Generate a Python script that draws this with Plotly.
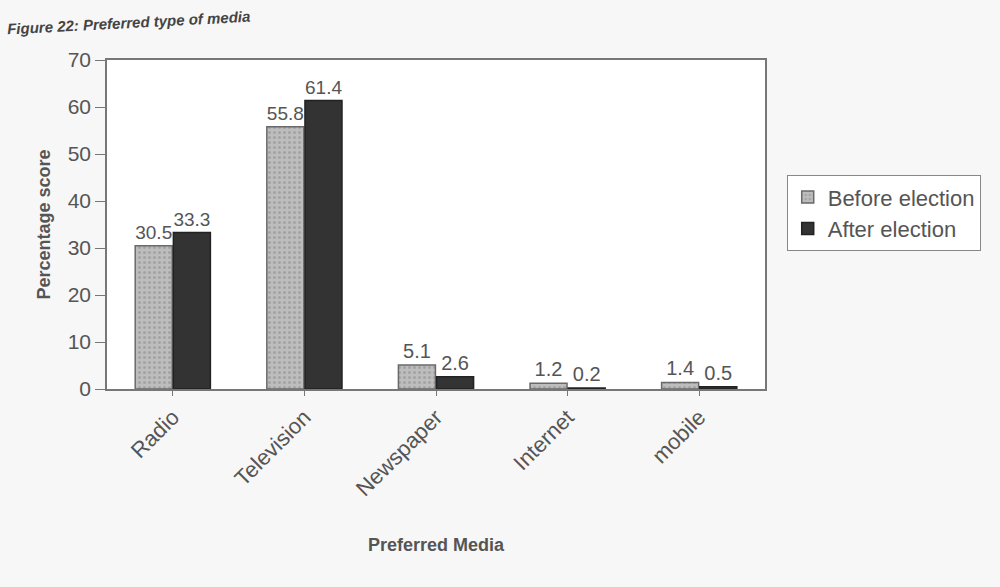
import plotly.graph_objects as go

categories = ["Radio", "Television", "Newspaper", "Internet", "mobile"]
before = [30.5, 55.8, 5.1, 1.2, 1.4]
after = [33.3, 61.4, 2.6, 0.2, 0.5]
y_ticks = [0, 10, 20, 30, 40, 50, 60, 70]

font_fam = "Liberation Sans, Arial, sans-serif"
txt_col = "#555555"

fig = go.Figure()
fig.add_trace(go.Bar(
    x=categories, y=before, name="Before election",
    marker=dict(color="#bdbdbd", line=dict(color="#6a6a6a", width=1.5),
                pattern=dict(shape=".", fgcolor="#8a8a8a", size=5, solidity=0.3)),
    text=[str(v) for v in before], textposition="outside",
    textfont=dict(size=20, color=txt_col, family=font_fam), cliponaxis=False,
))
fig.add_trace(go.Bar(
    x=categories, y=after, name="After election",
    marker=dict(color="#333333", line=dict(color="#222222", width=1.5)),
    text=[str(v) for v in after], textposition="outside",
    textfont=dict(size=20, color=txt_col, family=font_fam), cliponaxis=False,
))

fig.update_layout(
    width=1000, height=587,
    margin=dict(l=107, r=235, t=60, b=198),
    paper_bgcolor="#f7f7f7", plot_bgcolor="#ffffff",
    barmode="group", bargap=0.42, bargroupgap=0.03,
    font=dict(family=font_fam, color=txt_col),
    showlegend=True,
    legend=dict(x=1.033, y=0.65, xanchor="left", yanchor="top",
                bordercolor="#888888", borderwidth=1, bgcolor="#ffffff",
                font=dict(size=22, color=txt_col), itemwidth=30,
                tracegroupgap=4),
    xaxis=dict(
        title=dict(text="<b>Preferred Media</b>", font=dict(size=18, color=txt_col), standoff=38),
        tickangle=-45, tickfont=dict(size=22, color=txt_col),
        showline=True, linecolor="#777777", linewidth=1.5, mirror=True,
        ticks="outside", tickcolor="#777777", ticklen=5,
        showgrid=False,
    ),
    yaxis=dict(
        title=dict(text="<b>Percentage score</b>", font=dict(size=18, color=txt_col), standoff=12),
        range=[0, 70], tickvals=y_ticks, tickfont=dict(size=21, color=txt_col),
        showline=True, linecolor="#777777", linewidth=1.5, mirror=True,
        ticks="outside", tickcolor="#777777", ticklen=10, showgrid=False,
    ),
)

fig.add_annotation(
    text="<b><i>Figure 22: Preferred type of media</i></b>",
    xref="paper", yref="paper", x=-0.155, y=1.165, xanchor="left", yanchor="top",
    showarrow=False, textangle=-3, font=dict(size=15, color="#444444"),
)

fig.write_html("out.html")
